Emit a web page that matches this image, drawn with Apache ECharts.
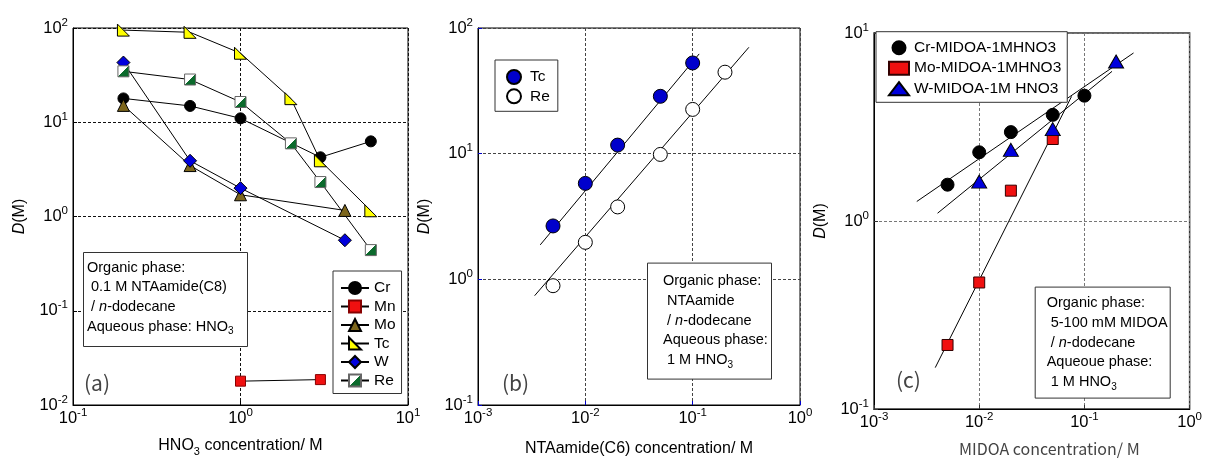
<!DOCTYPE html>
<html><head><meta charset="utf-8">
<script src="https://cdn.jsdelivr.net/npm/echarts@6/dist/echarts.min.js"></script>
<style>html,body{margin:0;padding:0;background:#fff}#c{width:1205px;height:462px}</style>
</head><body><div id="c"></div>
<script>
// ---------- Panel (a): D vs HNO3 concentration ----------
const aCr = [[0.2,17.9],[0.5,14.9],[1,11.0],[3,4.25],[6,6.27]];
const aMn = [[1,0.0179],[3,0.0186]];
const aMo = [[0.2,15.1],[0.5,3.47],[1,1.7],[4.2,1.16]];
const aTc = [[0.2,95],[0.5,90],[1,54],[2,17.8],[3,3.9],[6,1.15]];
const aW  = [[0.2,43],[0.5,3.9],[1,2.0],[4.2,0.56]];
const aRe = [[0.2,34.7],[0.5,28.4],[1,16.4],[2,5.97],[3,2.32],[6,0.44]];
const aNames = ['Cr','Mn','Mo','Tc','W','Re'];

// ---------- Panel (b): D vs NTAamide(C6) concentration ----------
const bTc = [[0.005,2.66],[0.01,5.8],[0.02,11.7],[0.05,28.6],[0.1,52.7]];
const bRe = [[0.005,0.89],[0.01,1.97],[0.02,3.77],[0.05,9.86],[0.1,22.5],[0.2,44.5]];
const bTcFit = [[0.0038,1.88],[0.115,62.2]];
const bReFit = [[0.00337,0.741],[0.334,70.2]];
const bNames = ['Tc','Re'];

// ---------- Panel (c): D vs MIDOA concentration ----------
const cCr = [[0.005,1.56],[0.01,2.32],[0.02,2.97],[0.05,3.67],[0.1,4.64]];
const cMo = [[0.005,0.219],[0.01,0.471],[0.02,1.45],[0.05,2.73]];
const cW  = [[0.01,1.62],[0.02,2.39],[0.05,3.08],[0.2,7.06]];
const cCrFit = [[0.00255,1.27],[0.293,7.83]];
const cWFit  = [[0.00402,1.10],[0.183,6.25]];
const cMoFit = [[0.00382,0.166],[0.0755,4.6]];
const cNames = ['Cr-MIDOA-1MHNO3','Mo-MIDOA-1MHNO3','W-MIDOA-1M HNO3'];

// axis ranges (log10 decades)
const aX = [0.1, 10], aY = [0.01, 100];
const bX = [0.001, 1], bY = [0.1, 100];
const cX = [0.001, 1], cY = [0.1, 10];

const FONT = 'Liberation Sans';
const JFONT = 'Noto Sans CJK JP';

const chart = echarts.init(document.getElementById('c'), null, {renderer:'canvas'});

const powFmt = v => '{b|10}{s|' + Math.round(Math.log10(v)) + '}';
const tickRich = {
  b:{fontSize:16.5, fontFamily:FONT, color:'#000'},
  s:{fontSize:11.5, fontFamily:FONT, color:'#000', padding:[0,0,11,0]}
};

function xAx(gi, r, name, nameRich, gap, pad, gridColor, tickColor, fam){
  return {type:'log', logBase:10, gridIndex:gi, min:r[0], max:r[1],
    name:name, nameLocation:'middle', nameGap:gap,
    nameTextStyle:{fontSize:16, fontFamily:fam||FONT, color:fam?'#444':'#000', padding:pad||0, rich:nameRich||{}},
    axisLine:{show:true, lineStyle:{color:'#000', width:1}},
    axisTick:{show:true, inside:true, length:4, lineStyle:{color:tickColor||'#000'}},
    minorTick:{show:false},
    axisLabel:{formatter:powFmt, rich:tickRich, fontSize:16.5, fontFamily:FONT, color:'#000', margin:2, showMinLabel:true, showMaxLabel:true},
    splitLine:{show:true, lineStyle:{color:gridColor, type:[3,2], width:1}}
  };
}
function yAx(gi, r, gridColor, tickColor){
  return {type:'log', logBase:10, gridIndex:gi, min:r[0], max:r[1],
    name:'{i|D}(M)', nameLocation:'middle', nameGap:45,
    nameTextStyle:{fontSize:16, fontFamily:FONT, color:'#000',
      rich:{i:{fontStyle:'italic', fontSize:16, fontFamily:FONT}}},
    axisLine:{show:true, lineStyle:{color:'#000', width:1}},
    axisTick:{show:true, inside:true, length:4, lineStyle:{color:tickColor||'#000'}},
    axisLabel:{formatter:powFmt, rich:tickRich, fontSize:16.5, fontFamily:FONT, color:'#000', margin:5, showMinLabel:true, showMaxLabel:true},
    splitLine:{show:true, lineStyle:{color:gridColor, type:[3,2], width:1}}
  };
}

const reFill = {type:'linear', x:0, y:0, x2:1, y2:1, colorStops:[
  {offset:0,color:'#ffffff'},{offset:0.5,color:'#ffffff'},{offset:0.5,color:'#0b6a2c'},{offset:1,color:'#0b6a2c'}]};

const aStyle = {
  Cr:{symbol:'circle', size:11, color:'#000', border:'#000'},
  Mn:{symbol:'rect', size:10, color:'#f01010', border:'#800'},
  Mo:{symbol:'triangle', size:12, color:'#7d661c', border:'#000'},
  Tc:{symbol:'path://M0,0L0,10L10,10Z', size:12, color:'#ffff00', border:'#000'},
  W:{symbol:'diamond', size:13, color:'#0000dd', border:'#000'},
  Re:{symbol:'rect', size:11, color:reFill, border:'#666'}
};
const aData = {Cr:aCr, Mn:aMn, Mo:aMo, Tc:aTc, W:aW, Re:aRe};

const series = [];
aNames.forEach(n => {
  const s = aStyle[n];
  series.push({type:'line', name:n, xAxisIndex:0, yAxisIndex:0, data:aData[n],
    symbol:s.symbol, symbolSize:s.size, showSymbol:true, animation:false,
    itemStyle:{color:s.color, borderColor:s.border, borderWidth:1},
    lineStyle:{color:'#000', width:1}});
});
// panel (b)
series.push({type:'line', name:'fitTc', xAxisIndex:1, yAxisIndex:1, data:bTcFit, symbol:'none', lineStyle:{color:'#000', width:1}, animation:false});
series.push({type:'line', name:'fitRe', xAxisIndex:1, yAxisIndex:1, data:bReFit, symbol:'none', lineStyle:{color:'#000', width:1}, animation:false});
series.push({type:'scatter', name:'Tc (b)', xAxisIndex:1, yAxisIndex:1, data:bTc, symbol:'circle', symbolSize:14,
  itemStyle:{color:'#0000cc', borderColor:'#000', borderWidth:1, opacity:1}, animation:false, z:3});
series.push({type:'scatter', name:'Re (b)', xAxisIndex:1, yAxisIndex:1, data:bRe, symbol:'circle', symbolSize:14,
  itemStyle:{color:'#fff', borderColor:'#000', borderWidth:1, opacity:1}, animation:false, z:3});
// panel (c)
[cCrFit, cWFit, cMoFit].forEach((d,i) => series.push({type:'line', name:'fitc'+i, xAxisIndex:2, yAxisIndex:2, data:d,
  symbol:'none', lineStyle:{color:'#000', width:1}, animation:false}));
series.push({type:'scatter', name:cNames[0], xAxisIndex:2, yAxisIndex:2, data:cCr, symbol:'circle', symbolSize:13,
  itemStyle:{color:'#000', borderColor:'#000', borderWidth:1, opacity:1}, animation:false, z:3});
series.push({type:'scatter', name:cNames[1], xAxisIndex:2, yAxisIndex:2, data:cMo, symbol:'rect', symbolSize:11,
  itemStyle:{color:'#f01010', borderColor:'#300', borderWidth:1, opacity:1}, animation:false, z:3});
series.push({type:'scatter', name:cNames[2], xAxisIndex:2, yAxisIndex:2, data:cW, symbol:'triangle', symbolSize:[15,13],
  itemStyle:{color:'#0000dd', borderColor:'#000', borderWidth:1, opacity:1}, animation:false, z:3});

const boxText = {fontSize:14.5, fontWeight:'normal', color:'#000', fontFamily:FONT, lineHeight:19.6,
  rich:{i:{fontStyle:'italic', fontSize:14.5, lineHeight:19.6, fontFamily:FONT},
        sub:{fontSize:10, fontFamily:FONT, padding:[10,0,0,0]}}};

const option = {
  backgroundColor:'#fff',
  animation:false,
  grid:[
    {left:73, top:28, width:335, height:380, show:true, borderColor:'#000', borderWidth:1, backgroundColor:'transparent'},
    {left:478, top:28, width:322, height:379, show:true, borderColor:'#000', borderWidth:1, backgroundColor:'transparent'},
    {left:874, top:33, width:319, height:376, show:true, borderColor:'#333', borderWidth:1.5, backgroundColor:'transparent'}
  ],
  xAxis:[
    xAx(0, aX, 'HNO{sub|3} concentration/ M', {sub:{fontSize:11, fontFamily:FONT, padding:[11,0,0,0]}}, 30, 0, '#111'),
    xAx(1, bX, 'NTAamide(C6) concentration/ M', null, 36, 0, '#444', '#0000cc'),
    xAx(2, cX, 'MIDOA concentration/ M', null, 32, [0,0,0,35], '#777', '#333', JFONT)
  ],
  yAxis:[
    yAx(0, aY, '#111'),
    yAx(1, bY, '#444', '#0000cc'),
    yAx(2, cY, '#777', '#333')
  ],
  legend:[
    {data:aNames, orient:'vertical', left:333, top:271, padding:[9,6,5,7], itemWidth:28, itemHeight:15, itemGap:2.5,
     backgroundColor:'#fff', borderColor:'#333', borderWidth:1, selectedMode:false,
     textStyle:{fontSize:15.5, fontFamily:FONT, color:'#000', lineHeight:15}},
    {data:['Tc (b)','Re (b)'], formatter:n=>n.replace(' (b)',''), orient:'vertical', left:495, top:60, padding:[9,8,7,11],
     itemWidth:22, itemHeight:14, itemGap:3.3, backgroundColor:'#fff', borderColor:'#333', borderWidth:1, selectedMode:false,
     textStyle:{fontSize:15.5, fontFamily:FONT, color:'#000', lineHeight:14}},
    {data:cNames, orient:'vertical', left:876, top:31.7, padding:[8,6,5.6,12], itemWidth:20, itemHeight:13, itemGap:4.5,
     backgroundColor:'#fff', borderColor:'#333', borderWidth:1, selectedMode:false,
     textStyle:{fontSize:15.5, fontFamily:FONT, color:'#000', lineHeight:13}}
  ],
  title:[
    {text:'Organic phase:\n 0.1 M NTAamide(C8)\n / {i|n}-dodecane\nAqueous phase: HNO{sub|3}', left:83, top:252,
     padding:[6,14,10,4], borderColor:'#333', borderWidth:1, backgroundColor:'#fff', textStyle:boxText},
    {text:'Organic phase:\n NTAamide\n / {i|n}-dodecane\nAqueous phase:\n 1 M HNO{sub|3}', left:647, top:263,
     padding:[8.6,4,10,16], borderColor:'#333', borderWidth:1, backgroundColor:'#fff', textStyle:boxText},
    {text:'Organic phase:\n 5-100 mM MIDOA\n / {i|n}-dodecane\nAqueoue phase:\n 1 M HNO{sub|3}', left:1035, top:287,
     padding:[6.6,3,7,11.7], borderColor:'#333', borderWidth:1, backgroundColor:'#fff', textStyle:boxText},
    {text:'(a)', left:84, top:373, padding:0, textStyle:{fontSize:21, fontWeight:'normal', fontFamily:JFONT, color:'#444'}},
    {text:'(b)', left:502, top:373, padding:0, textStyle:{fontSize:21, fontWeight:'normal', fontFamily:JFONT, color:'#444'}},
    {text:'(c)', left:896, top:370, padding:0, textStyle:{fontSize:21, fontWeight:'normal', fontFamily:JFONT, color:'#444'}}
  ],
  series:series
};
chart.setOption(option);
</script></body></html>
